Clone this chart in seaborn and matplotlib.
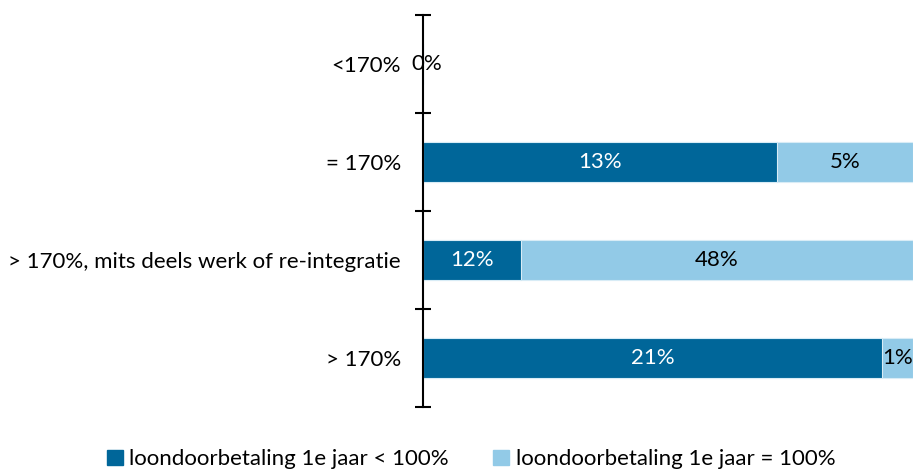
import matplotlib
matplotlib.use("Agg")
import matplotlib.pyplot as plt
import numpy as np
import pandas as pd
import seaborn as sns
from matplotlib.patches import Patch

# data
categories = [
    "<170%",
    "= 170%",
    "> 170%, mits deels werk of re-integratie",
    "> 170%",
]
lt100 = [0, 13, 12, 21]  # loondoorbetaling 1e jaar < 100%
eq100 = [0, 5, 48, 1.4]  # loondoorbetaling 1e jaar = 100%
series_names = ["loondoorbetaling 1e jaar < 100%", "loondoorbetaling 1e jaar = 100%"]

DARK = "#006699"
LIGHT = "#92CAE7"
FS = 16

sns.set_style("white")
plt.rcParams["font.family"] = ["Lato", "DejaVu Sans"]
plt.rcParams["text.color"] = "black"

df = pd.DataFrame({"cat": categories, "lt": lt100, "eq": eq100})
df["total"] = df["lt"] + df["eq"]
# each bar is shown as 100% of its row, labels keep the raw percentages
df["share_lt"] = np.where(df["total"] > 0, df["lt"] / df["total"].replace(0, 1), 0)
df["share_all"] = np.where(df["total"] > 0, 1.0, 0)

fig, ax = plt.subplots(figsize=(9.15, 4.7), dpi=100)
fig.subplots_adjust(left=0.4623, right=0.9978, top=0.968, bottom=0.134)

sns.barplot(data=df, x="share_all", y="cat", color=LIGHT, orient="h", saturation=1,
            width=0.4, edgecolor="#d8ecf6", linewidth=0.8, ax=ax)
sns.barplot(data=df, x="share_lt", y="cat", color=DARK, orient="h", saturation=1,
            width=0.4, edgecolor="#d8ecf6", linewidth=0.8, ax=ax)

# value labels
for i, row in df.iterrows():
    if row["total"] == 0:
        ax.text(0.008, i, f"{row['lt']:.0f}%", ha="center", va="center",
                fontsize=FS, color="black")
        continue
    ax.text(row["share_lt"] / 2, i, f"{row['lt']:.0f}%", ha="center",
            va="center", fontsize=FS, color="white")
    ax.text(row["share_lt"] + (1 - row["share_lt"]) / 2, i, f"{row['eq']:.0f}%",
            ha="center", va="center", fontsize=FS, color="black")

ax.set_xlim(0, 1)
ax.set_ylim(len(categories) - 0.5, -0.5)
ax.set_xlabel("")
ax.set_ylabel("")
ax.set_xticks([])

ax.set_yticks(range(len(categories)))
ax.set_yticklabels(categories, fontsize=FS)
ax.tick_params(axis="y", which="major", left=False, length=0, pad=16,
               labelcolor="black")
ax.set_yticks(np.arange(-0.5, len(categories)), minor=True)
ax.tick_params(axis="y", which="minor", left=True, length=11, width=1.5,
               direction="inout", color="black")

for side in ["top", "right", "bottom"]:
    ax.spines[side].set_visible(False)
ax.spines["left"].set_color("black")
ax.spines["left"].set_linewidth(1.5)

handles = [Patch(facecolor=DARK, edgecolor=DARK),
           Patch(facecolor=LIGHT, edgecolor=LIGHT)]
fig.legend(handles, series_names, loc="center", bbox_to_anchor=(0.515, 0.023),
           ncol=2, frameon=False, fontsize=FS, handlelength=0.7,
           handleheight=0.7, handletextpad=0.3, columnspacing=2.0)

fig.savefig("out.png", dpi=100)
